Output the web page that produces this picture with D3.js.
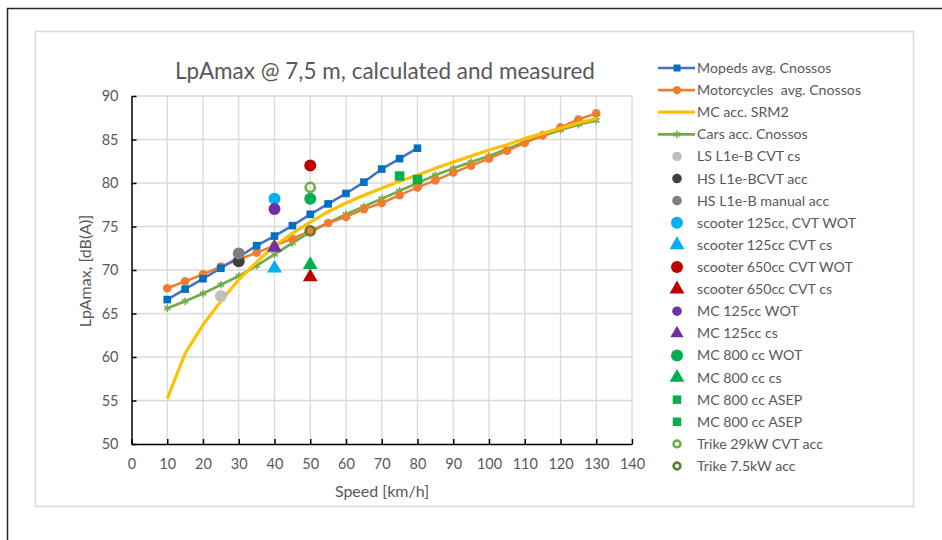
<!DOCTYPE html>
<html>
<head>
<meta charset="utf-8">
<script src="https://cdn.jsdelivr.net/npm/d3@7"></script>
<style>
  body { margin: 0; background: #fff; }
  text { font-family: Lato, "Noto Sans", sans-serif; fill: #595959; }
</style>
</head>
<body>
<svg id="chart" width="942" height="540"></svg>
<script>
// speeds, km/h
var mopedSpeed = [10, 15, 20, 25, 30, 35, 40, 45, 50, 55, 60, 65, 70, 75, 80];
var mopedLevel = [66.6, 67.8, 69.0, 70.2, 71.5, 72.8, 73.9, 75.1, 76.4, 77.6, 78.8, 80.1, 81.6, 82.8, 84.0];

var longSpeed = [10, 15, 20, 25, 30, 35, 40, 45, 50, 55, 60, 65, 70, 75, 80, 85, 90, 95, 100, 105, 110, 115, 120, 125, 130];
var motoLevel = [67.9, 68.7, 69.5, 70.4, 71.2, 72.0, 72.8, 73.6, 74.5, 75.4, 76.1, 77.0, 77.7, 78.6, 79.5, 80.3, 81.2, 82.0, 82.8, 83.7, 84.6, 85.5, 86.4, 87.3, 88.0];
var srm2Level = [55.2, 60.4, 63.7, 66.4, 68.9, 70.9, 72.8, 74.2, 75.5, 76.7, 77.7, 78.6, 79.4, 80.2, 80.9, 81.7, 82.4, 83.1, 83.8, 84.4, 85.1, 85.7, 86.3, 86.9, 87.4];
var carsLevel = [65.6, 66.4, 67.3, 68.3, 69.3, 70.5, 71.8, 73.1, 74.4, 75.4, 76.4, 77.3, 78.2, 79.1, 80.0, 80.9, 81.7, 82.4, 83.1, 83.9, 84.7, 85.4, 86.1, 86.7, 87.2];

// measured vehicles
var measNames = ["LS L1e-B CVT cs", "HS L1e-BCVT acc", "HS L1e-B manual acc", "scooter 125cc, CVT WOT",
  "scooter 125cc CVT cs", "scooter 650cc CVT WOT", "scooter 650cc CVT cs", "MC 125cc WOT", "MC 125cc cs",
  "MC 800 cc WOT", "MC 800 cc cs", "MC 800 cc ASEP", "MC 800 cc ASEP", "Trike 29kW CVT acc", "Trike 7.5kW acc"];
var measSpeed = [25, 30, 30, 40, 40, 50, 50, 40, 40, 50, 50, 75, 80, 50, 50];
var measLevel = [67.0, 71.0, 71.9, 78.2, 70.2, 82.0, 69.2, 77.0, 72.6, 78.2, 70.6, 80.8, 80.4, 79.5, 74.5];
var measShape = ["circle", "circle", "circle", "circle", "triangle", "circle", "triangle", "circle", "triangle",
  "circle", "triangle", "square", "square", "ring", "ring"];
var measColor = ["#bfbfbf", "#404040", "#7f7f7f", "#00b0f0", "#00b0f0", "#c00000", "#c00000", "#7030a0", "#7030a0",
  "#00b050", "#00b050", "#00b050", "#00b050", "#70ad47", "#548235"];

var xTicks = [0, 10, 20, 30, 40, 50, 60, 70, 80, 90, 100, 110, 120, 130, 140];
var yTicks = [50, 55, 60, 65, 70, 75, 80, 85, 90];

var svg = d3.select("#chart");

// outer frame
svg.append("path").attr("d", "M7.5,540 L7.5,8.5 L942,8.5")
  .attr("fill", "none").attr("stroke", "#262626").attr("stroke-width", 1.5);
// chart area border
svg.append("rect").attr("x", 35.5).attr("y", 31.5).attr("width", 878).attr("height", 475)
  .attr("fill", "#fff").attr("stroke", "#d9d9d9").attr("stroke-width", 1.5);

var x = d3.scaleLinear().domain([0, 140]).range([131.5, 632]);
var y = d3.scaleLinear().domain([50, 90]).range([444, 96]);

// grid
svg.append("g").selectAll("line").data(xTicks.slice(1)).enter().append("line")
  .attr("x1", d => x(d)).attr("x2", d => x(d)).attr("y1", y(50)).attr("y2", y(90))
  .attr("stroke", "#d9d9d9").attr("stroke-width", 1.3);
svg.append("g").selectAll("line").data(yTicks.slice(1)).enter().append("line")
  .attr("x1", x(0)).attr("x2", x(140)).attr("y1", d => y(d)).attr("y2", d => y(d))
  .attr("stroke", "#d9d9d9").attr("stroke-width", 1.3);

// axes
var xAxis = svg.append("g").attr("transform", "translate(0," + y(50) + ")")
  .call(d3.axisBottom(x).tickValues(xTicks).tickSizeInner(-5).tickSizeOuter(0).tickPadding(15));
var yAxis = svg.append("g").attr("transform", "translate(" + x(0) + ",0)")
  .call(d3.axisLeft(y).tickValues(yTicks).tickSizeInner(-5).tickSizeOuter(0).tickPadding(13));
[xAxis, yAxis].forEach(function (g) {
  g.select(".domain").attr("stroke", "#000").attr("stroke-width", 1.5);
  g.selectAll(".tick line").attr("stroke", "#000").attr("stroke-width", 1.5);
  g.selectAll(".tick text").attr("font-size", 14.5).attr("fill", "#595959")
    .style("font-family", "Lato, 'Noto Sans', sans-serif");
});

// lines
var line = d3.line().x(d => x(d[0])).y(d => y(d[1]));
function series(xs, ys) { return xs.map((v, i) => [v, ys[i]]); }

var sym = d3.symbol();

svg.append("path").datum(series(longSpeed, carsLevel)).attr("d", line)
  .attr("fill", "none").attr("stroke", "#70ad47").attr("stroke-width", 2.8);
svg.append("g").selectAll("path").data(series(longSpeed, carsLevel)).enter().append("path")
  .attr("transform", d => "translate(" + x(d[0]) + "," + y(d[1]) + ")")
  .attr("d", sym.type(d3.symbolAsterisk).size(40)()).attr("fill", "none")
  .attr("stroke", "#70ad47").attr("stroke-width", 1.5);

svg.append("path").datum(series(longSpeed, motoLevel)).attr("d", line)
  .attr("fill", "none").attr("stroke", "#ed7d31").attr("stroke-width", 2.5);
svg.append("g").selectAll("circle").data(series(longSpeed, motoLevel)).enter().append("circle")
  .attr("cx", d => x(d[0])).attr("cy", d => y(d[1])).attr("r", 4.3).attr("fill", "#ed7d31");

svg.append("path").datum(series(longSpeed, srm2Level)).attr("d", line)
  .attr("fill", "none").attr("stroke", "#ffc000").attr("stroke-width", 3.2);

svg.append("path").datum(series(mopedSpeed, mopedLevel)).attr("d", line)
  .attr("fill", "none").attr("stroke", "#4472c4").attr("stroke-width", 2.5);
svg.append("g").selectAll("rect").data(series(mopedSpeed, mopedLevel)).enter().append("rect")
  .attr("x", d => x(d[0]) - 3.8).attr("y", d => y(d[1]) - 3.8).attr("width", 7.6).attr("height", 7.6)
  .attr("fill", "#0070c0");

// measured markers
function drawMarker(g, shape, color, big) {
  var r = big ? 6 : 4.8;
  if (shape === "circle") {
    g.append("circle").attr("r", r).attr("fill", color);
  } else if (shape === "ring") {
    g.append("circle").attr("r", r - 1.4).attr("fill", "none").attr("stroke", color).attr("stroke-width", 2.6);
  } else if (shape === "triangle") {
    g.append("path").attr("d", d3.symbol().type(d3.symbolTriangle).size(big ? 95 : 75)()).attr("fill", color);
  } else {
    var s = big ? 9.5 : 8.5;
    g.append("rect").attr("x", -s / 2).attr("y", -s / 2).attr("width", s).attr("height", s).attr("fill", color);
  }
}
measNames.forEach(function (n, i) {
  var g = svg.append("g").attr("transform", "translate(" + x(measSpeed[i]) + "," + y(measLevel[i]) + ")");
  drawMarker(g, measShape[i], measColor[i], true);
});

// title and axis labels
svg.append("text").attr("x", 385).attr("y", 79).attr("text-anchor", "middle")
  .attr("font-size", 22.5).text("LpAmax @ 7,5 m, calculated and measured");
svg.append("text").attr("x", 382).attr("y", 497).attr("text-anchor", "middle")
  .attr("font-size", 16).text("Speed [km/h]");
svg.append("text").attr("transform", "translate(91,271) rotate(-90)").attr("text-anchor", "middle")
  .attr("font-size", 16).text("LpAmax, [dB(A)]");

// legend
var legNames = ["Mopeds avg. Cnossos", "Motorcycles\u00a0 avg. Cnossos", "MC acc. SRM2", "Cars acc. Cnossos"].concat(measNames);
var legRowY = d3.scaleLinear().domain([0, 18]).range([68, 466]);
var leg = svg.append("g");
legNames.forEach(function (n, i) {
  var g = leg.append("g").attr("transform", "translate(0," + legRowY(i) + ")");
  var mx = 677;
  if (i < 4) {
    var col = ["#4472c4", "#ed7d31", "#ffc000", "#70ad47"][i];
    g.append("line").attr("x1", 658).attr("x2", 695).attr("stroke", col).attr("stroke-width", i === 2 ? 3.2 : 2.6);
    if (i === 0) g.append("rect").attr("x", mx - 3.5).attr("y", -3.5).attr("width", 7).attr("height", 7).attr("fill", "#0070c0");
    if (i === 1) g.append("circle").attr("cx", mx).attr("r", 4.2).attr("fill", "#ed7d31");
    if (i === 3) g.append("path").attr("transform", "translate(" + mx + ",0)")
      .attr("d", d3.symbol().type(d3.symbolAsterisk).size(40)()).attr("fill", "none")
      .attr("stroke", "#70ad47").attr("stroke-width", 1.5);
  } else {
    var k = i - 4;
    var mg = g.append("g").attr("transform", "translate(" + mx + ",0)");
    var big = [3, 4, 5, 6, 9, 10].indexOf(k) >= 0;
    drawMarker(mg, measShape[k], measColor[k], big);
  }
  g.append("text").attr("x", 697).attr("y", 5).attr("font-size", 14.2)
    .text(n);
});
</script>
</body>
</html>
